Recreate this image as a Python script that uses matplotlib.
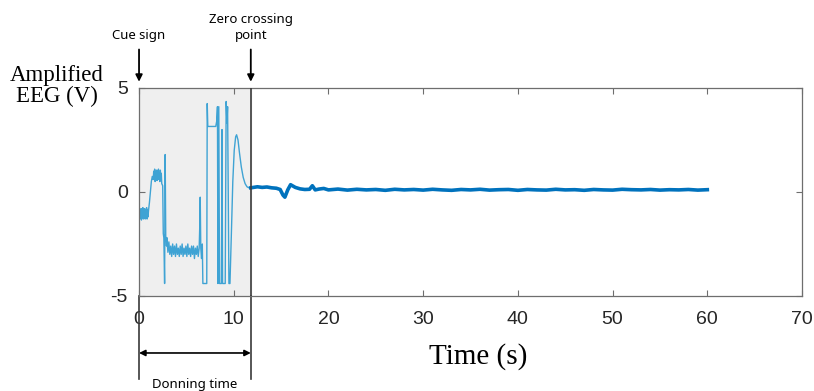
import matplotlib
matplotlib.use("Agg")
import matplotlib.pyplot as plt

plt.rcParams["axes.unicode_minus"] = False

# donning phase (light trace), time in s, amplitude in V
don_t = [0.0, 0.05, 0.1, 0.15, 0.2, 0.25, 0.3, 0.35, 0.4, 0.45, 0.5, 0.55, 0.6, 0.65, 0.7, 0.75,
         0.8, 0.85, 0.9, 0.95, 1.0, 1.1, 1.2, 1.3, 1.4, 1.5, 1.55, 1.6, 1.65, 1.7, 1.75, 1.8,
         1.85, 1.9, 1.95, 2.0, 2.05, 2.1, 2.15, 2.2, 2.25, 2.3, 2.35, 2.4, 2.5, 2.56, 2.62, 2.7,
         2.76, 2.82, 2.9, 2.95, 3.05, 3.15, 3.25, 3.35, 3.45, 3.55, 3.65, 3.75, 3.85, 3.95, 4.05,
         4.15, 4.25, 4.35, 4.45, 4.55, 4.65, 4.75, 4.85, 4.95, 5.05, 5.15, 5.25, 5.35, 5.45, 5.55,
         5.65, 5.75, 5.85, 5.95, 6.05, 6.15, 6.25, 6.35, 6.42, 6.46, 6.52, 6.6, 6.68, 6.74, 7.15,
         7.2, 7.26, 8.1, 8.2, 8.28, 8.33, 8.42, 8.5, 8.7, 8.76, 8.82, 9.1, 9.2, 9.28, 9.35, 9.49,
         9.6, 9.75, 9.9, 10.05, 10.2, 10.3, 10.45, 10.6, 10.8, 11.0, 11.2, 11.4, 11.6, 11.8]
don_v = [-0.85, -1.3, -0.8, -1.25, -0.9, -1.35, -0.8, -1.2, -0.75, -1.3, -0.85, -1.25, -0.8, -1.3,
         -0.9, -1.2, -0.75, -1.3, -0.85, -1.2, -0.9, -0.5, 0.0, 0.5, 0.75, 0.6, 1.0, 0.7, 1.1, 0.5,
         0.95, 0.6, 1.05, 0.55, 1.0, 0.7, 1.1, 0.6, 0.9, 0.5, 1.05, 0.6, 0.9, 0.4, 0.3, -2.0, -2.2,
         -4.4, 1.8, -2.1, -2.6, -2.2, -2.9, -2.4, -3.0, -2.6, -3.1, -2.5, -3.0, -2.6, -3.1, -2.5,
         -3.0, -2.7, -3.1, -2.6, -3.0, -2.5, -3.1, -2.7, -3.0, -2.6, -3.1, -2.5, -3.0, -2.7, -3.1,
         -2.6, -3.0, -2.6, -3.2, -2.7, -3.0, -2.6, -3.1, -2.7, -1.5, -0.25, -2.7, -3.2, -2.5, -4.4,
         -4.4, 4.25, 3.15, 3.15, 3.4, 4.1, -4.4, 4.1, -4.4, -4.4, 3.0, -4.4, -4.4, 4.35, 3.3, 4.1,
         -4.4, -4.4, -2.0, 0.5, 2.0, 2.65, 2.75, 2.5, 1.9, 1.2, 0.7, 0.4, 0.25, 0.2, 0.2]

# after zero crossing (dark trace)
rec_t = [11.8, 12.5, 13.0, 13.5, 14.0, 14.5, 14.9, 15.2, 15.4, 15.7, 16.0, 16.5, 17.0, 17.5,
         18.0, 18.3, 18.6, 19.0, 19.5, 20, 21, 22, 23, 24, 25, 26, 27, 28, 29, 30, 31, 32, 33,
         34, 35, 36, 37, 38, 39, 40, 41, 42, 43, 44, 45, 46, 47, 48, 49, 50, 51, 52, 53, 54, 55,
         56, 57, 58, 59, 60]
rec_v = [0.2, 0.25, 0.22, 0.24, 0.2, 0.18, 0.12, -0.15, -0.25, 0.1, 0.35, 0.22, 0.15, 0.12,
         0.13, 0.3, 0.1, 0.14, 0.17, 0.1, 0.14, 0.09, 0.13, 0.1, 0.12, 0.08, 0.13, 0.1, 0.12,
         0.09, 0.13, 0.1, 0.08, 0.12, 0.1, 0.13, 0.09, 0.11, 0.12, 0.08, 0.12, 0.1, 0.09, 0.13,
         0.1, 0.11, 0.08, 0.12, 0.1, 0.09, 0.13, 0.11, 0.1, 0.12, 0.09, 0.11, 0.1, 0.12, 0.09, 0.11]

x_ticks = [0, 10, 20, 30, 40, 50, 60, 70]
y_ticks = [-5, 0, 5]
don_end = 11.8

fig = plt.figure(figsize=(8.14, 3.91), dpi=100)
ax = fig.add_axes([0.1708, 0.243, 0.8145, 0.532])

ax.axvspan(0, don_end, color="#efefef", zorder=0)
ax.axvline(don_end, color="#3a3a3a", lw=1.2, zorder=3)
ax.plot(don_t, don_v, color="#3fa3d4", lw=1.0, zorder=2)
ax.plot(rec_t, rec_v, color="#0072bd", lw=2.6, zorder=2)

ax.set_xlim(0, 70)
ax.set_ylim(-5, 5)
ax.set_xticks(x_ticks)
ax.set_yticks(y_ticks)
ax.tick_params(direction="in", length=4, width=0.8, top=True, right=True,
               color="#6e6e6e", labelsize=14, labelcolor="#262626")
ax.tick_params(axis="x", pad=11)
ax.tick_params(axis="y", pad=8)
for lab in ax.get_xticklabels() + ax.get_yticklabels():
    lab.set_family("Liberation Sans")
for s in ax.spines.values():
    s.set_color("#6e6e6e")
    s.set_linewidth(0.9)

# axis titles
fig.text(57 / 814, 1 - 86 / 391, "Amplified\nEEG (V)", ha="center", va="center",
         family="Liberation Serif", fontsize=16.5, linespacing=1.05)
fig.text(478 / 814, 1 - 357 / 391, "Time (s)", ha="center", va="center",
         family="Liberation Serif", fontsize=21)

# top markers
tr = ax.get_xaxis_transform()
arrow = dict(arrowstyle="-|>", color="black", lw=1.3, mutation_scale=10, shrinkA=0, shrinkB=0)
ax.annotate("", xy=(0, 1.03), xytext=(0, 1.185), xycoords=tr, textcoords=tr,
            arrowprops=arrow, annotation_clip=False)
ax.annotate("", xy=(don_end, 1.03), xytext=(don_end, 1.185), xycoords=tr, textcoords=tr,
            arrowprops=arrow, annotation_clip=False)
ax.text(0, 1.25, "Cue sign", transform=tr, ha="center", va="center",
        family="Noto Sans", fontsize=9.5)
ax.text(don_end, 1.29, "Zero crossing\npoint", transform=tr, ha="center", va="center",
        family="Noto Sans", fontsize=9.5, linespacing=1.3)

# donning time bracket
for xv in (0, don_end):
    ax.plot([xv, xv], [0, -0.4], transform=tr, color="#3a3a3a", lw=1.2, clip_on=False)
ax.annotate("", xy=(0, -0.274), xytext=(don_end, -0.274), xycoords=tr, textcoords=tr,
            arrowprops=dict(arrowstyle="<|-|>", color="black", lw=1.2, mutation_scale=9,
                            shrinkA=0, shrinkB=0), annotation_clip=False)
ax.text(don_end / 2, -0.425, "Donning time", transform=tr, ha="center", va="center",
        family="Noto Sans", fontsize=9.5)

fig.savefig("out.png", dpi=100)
